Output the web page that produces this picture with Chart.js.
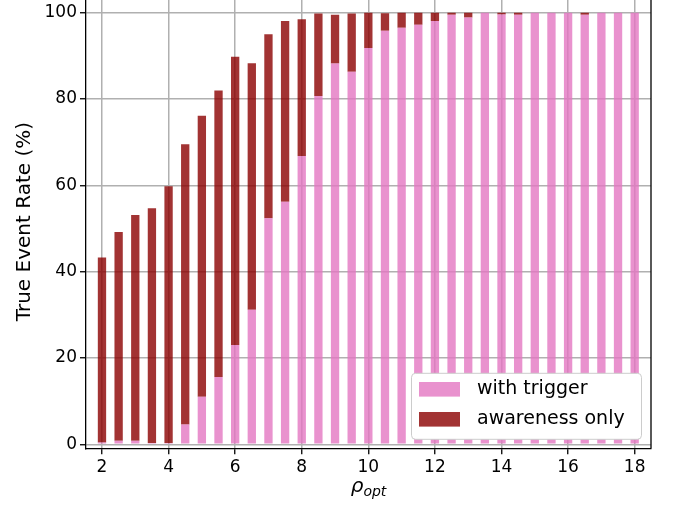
<!DOCTYPE html>
<html><head><meta charset="utf-8">
<script src="https://cdn.jsdelivr.net/npm/chart.js@4/dist/chart.umd.min.js"></script>
<style>
html,body{margin:0;padding:0;background:#fff;overflow:hidden;width:677px;height:506px;}
#wrap{position:absolute;left:0;top:-20px;width:677px;height:526px;}
</style></head><body>
<div id="wrap"><canvas id="c" width="677" height="526"></canvas></div>
<script>
const rhoOpt = [2, 2.5, 3, 3.5, 4, 4.5, 5, 5.5, 6, 6.5, 7, 7.5, 8, 8.5, 9, 9.5, 10, 10.5, 11, 11.5, 12, 12.5, 13, 13.5, 14, 14.5, 15, 15.5, 16, 16.5, 17, 17.5, 18];
const withTrigger = [0.4, 0.8, 0.8, 0.3, 0.3, 4.6, 11.0, 15.6, 23.0, 31.2, 52.4, 56.2, 66.8, 80.7, 88.2, 86.3, 91.8, 95.8, 96.5, 97.2, 98.1, 99.5, 98.9, 100, 99.6, 99.5, 100, 100, 100, 99.5, 100, 100, 100];
const awarenessOnly = [42.9, 48.4, 52.3, 54.4, 59.5, 64.9, 65.1, 66.4, 66.8, 57.1, 42.6, 41.9, 31.7, 19.1, 11.3, 13.5, 8.2, 4.1, 3.5, 2.8, 1.9, 0.5, 1.1, 0, 0.4, 0.5, 0, 0, 0, 0.5, 0, 0, 0];
const xTicks = [2, 4, 6, 8, 10, 12, 14, 16, 18];
const yTicks = [0, 20, 40, 60, 80, 100];
const seriesNames = ['with trigger', 'awareness only'];
const yTitle = 'True Event Rate (%)';
const xTitleMain = 'ρ';
const xTitleSub = 'opt';

const FONT = "'DejaVu Sans', sans-serif";
const COLORS = ['rgba(227,119,194,0.8)', 'rgba(139,0,0,0.8)'];

const extras = {
  id: 'extras',
  afterDraw(chart) {
    const ctx = chart.ctx;
    const a = chart.chartArea;
    ctx.save();
    // right & top spines
    ctx.strokeStyle = '#000';
    ctx.lineWidth = 1.3;
    ctx.beginPath();
    ctx.moveTo(a.right, a.bottom);
    ctx.lineTo(a.right, a.top);
    ctx.lineTo(a.left, a.top);
    ctx.stroke();

    // legend
    const bx = a.right - 240, by = a.bottom - 75.5, bw = 230, bh = 66;
    ctx.beginPath();
    if (ctx.roundRect) ctx.roundRect(bx + 0.5, by + 0.5, bw, bh, 4); else ctx.rect(bx + 0.5, by + 0.5, bw, bh);
    ctx.fillStyle = '#fff';
    ctx.fill();
    ctx.strokeStyle = '#cccccc';
    ctx.lineWidth = 1;
    ctx.stroke();
    chart.data.datasets.forEach((ds, i) => {
      const cy = by + 16.5 + i * 30;
      ctx.fillStyle = ds.backgroundColor;
      ctx.fillRect(bx + 8, cy - 7.3, 41, 14.6);
      ctx.fillStyle = '#000';
      ctx.font = '19px ' + FONT;
      ctx.textBaseline = 'middle';
      ctx.textAlign = 'left';
      ctx.fillText(ds.label, bx + 66, cy);
    });

    // x title with subscript
    ctx.textBaseline = 'alphabetic';
    ctx.font = 'italic 20px ' + FONT;
    const w1 = ctx.measureText(xTitleMain).width;
    ctx.font = 'italic 14px ' + FONT;
    const w2 = ctx.measureText(xTitleSub).width;
    const cx = (a.left + a.right) / 2;
    const x0 = cx - (w1 + w2) / 2;
    const base = a.bottom + 44;
    ctx.fillStyle = '#000';
    ctx.font = 'italic 20px ' + FONT;
    ctx.fillText(xTitleMain, x0, base);
    ctx.font = 'italic 14px ' + FONT;
    ctx.fillText(xTitleSub, x0 + w1, base + 4);
    ctx.restore();
  }
};

new Chart(document.getElementById('c'), {
  type: 'bar',
  data: {
    datasets: [
      {
        label: seriesNames[0],
        data: rhoOpt.map((x, i) => ({ x: x, y: withTrigger[i] })),
        backgroundColor: COLORS[0],
        borderWidth: 0,
        categoryPercentage: 1,
        barPercentage: 0.5
      },
      {
        label: seriesNames[1],
        data: rhoOpt.map((x, i) => ({ x: x, y: awarenessOnly[i] })),
        backgroundColor: COLORS[1],
        borderWidth: 0,
        categoryPercentage: 1,
        barPercentage: 0.5
      }
    ]
  },
  options: {
    responsive: false,
    animation: false,
    devicePixelRatio: 1,
    layout: { padding: { top: 15, right: 26, left: 0, bottom: 0 } },
    plugins: { legend: { display: false }, tooltip: { enabled: false } },
    scales: {
      x: {
        type: 'linear',
        stacked: true,
        min: 1.52,
        max: 18.49,
        offset: false,
        afterBuildTicks: s => { s.ticks = xTicks.map(v => ({ value: v })); },
        afterFit: s => { s.height = 57.7; },
        grid: { offset: false, color: '#b0b0b0', lineWidth: 1.5, tickColor: '#000', tickLength: 6, tickWidth: 1.3, drawTicks: true },
        border: { color: '#000', width: 1.3 },
        ticks: { font: { family: FONT, size: 17 }, color: '#000', padding: 3, maxRotation: 0, autoSkip: false }
      },
      y: {
        stacked: true,
        min: -0.93,
        max: 104.1,
        afterBuildTicks: s => { s.ticks = yTicks.map(v => ({ value: v })); },
        afterFit: s => { s.width = 86; },
        grid: { color: '#b0b0b0', lineWidth: 1.5, tickColor: '#000', tickLength: 6, tickWidth: 1.3, drawTicks: true },
        border: { color: '#000', width: 1.3 },
        ticks: { font: { family: FONT, size: 17 }, color: '#000', padding: 3 },
        title: { display: true, text: yTitle, font: { family: FONT, size: 20 }, color: '#000', padding: { top: 13, bottom: 0 } }
      }
    }
  },
  plugins: [extras]
});
</script>
</body></html>
